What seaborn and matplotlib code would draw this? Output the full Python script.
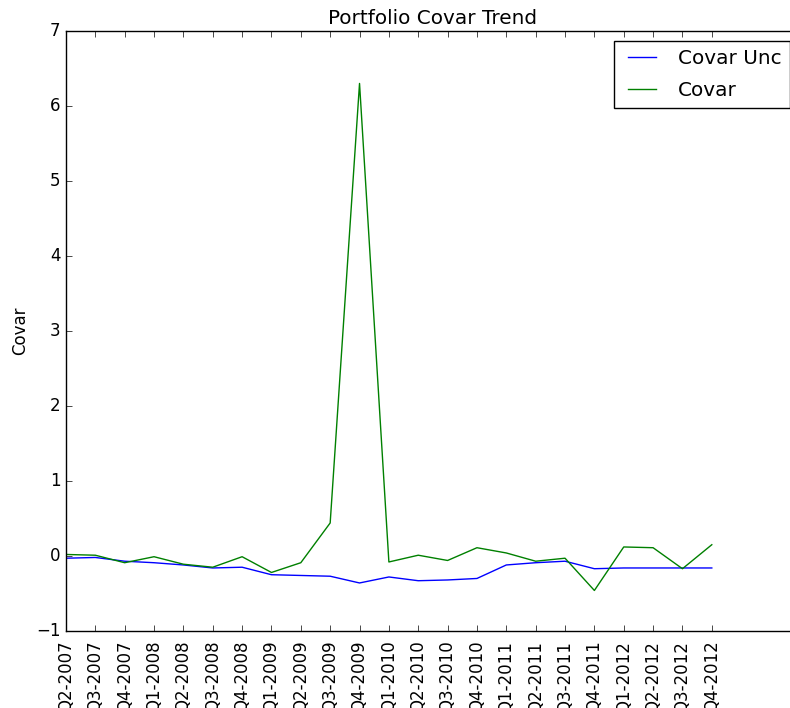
import numpy as np
import pandas as pd
import matplotlib
matplotlib.use("Agg")
import matplotlib.pyplot as plt
import seaborn as sns

quarters = ["Q2-2007", "Q3-2007", "Q4-2007", "Q1-2008", "Q2-2008", "Q3-2008",
            "Q4-2008", "Q1-2009", "Q2-2009", "Q3-2009", "Q4-2009", "Q1-2010",
            "Q2-2010", "Q3-2010", "Q4-2010", "Q1-2011", "Q2-2011", "Q3-2011",
            "Q4-2011", "Q1-2012", "Q2-2012", "Q3-2012", "Q4-2012"]
covar_unc = [-0.03, -0.02, -0.07, -0.09, -0.12, -0.16, -0.15, -0.25, -0.26,
             -0.27, -0.36, -0.28, -0.33, -0.32, -0.30, -0.12, -0.09, -0.07,
             -0.17, -0.16, -0.16, -0.16, -0.16]
covar = [0.02, 0.01, -0.09, -0.01, -0.11, -0.15, -0.01, -0.22, -0.09, 0.44,
         6.30, -0.08, 0.01, -0.06, 0.11, 0.04, -0.07, -0.03, -0.46, 0.12,
         0.11, -0.17, 0.15]

# old matplotlib look
plt.style.use("classic")
plt.rcParams["savefig.facecolor"] = "white"
plt.rcParams["figure.facecolor"] = "white"

df = pd.DataFrame({"idx": np.arange(len(quarters)),
                   "Covar Unc": covar_unc, "Covar": covar})

fig = plt.figure(figsize=(7.9, 7.08), dpi=100)
ax = fig.add_axes([0.0835, 0.1088, 0.929, 0.8475])

sns.lineplot(data=df, x="idx", y="Covar Unc", color="b", label="Covar Unc", ax=ax)
sns.lineplot(data=df, x="idx", y="Covar", color="g", label="Covar", ax=ax)

ax.set_xlim(0, 25)
ax.set_ylim(-1, 7)
ax.set_xticks(df["idx"])
ax.set_xticklabels(quarters, rotation=90)
ax.tick_params(axis="x", pad=7)
ax.set_xlabel("")
ax.set_ylabel("Covar")
ax.set_title("Portfolio Covar Trend")
ax.legend(loc="upper right", labelspacing=0.65)

fig.savefig("out.png", dpi=100)
